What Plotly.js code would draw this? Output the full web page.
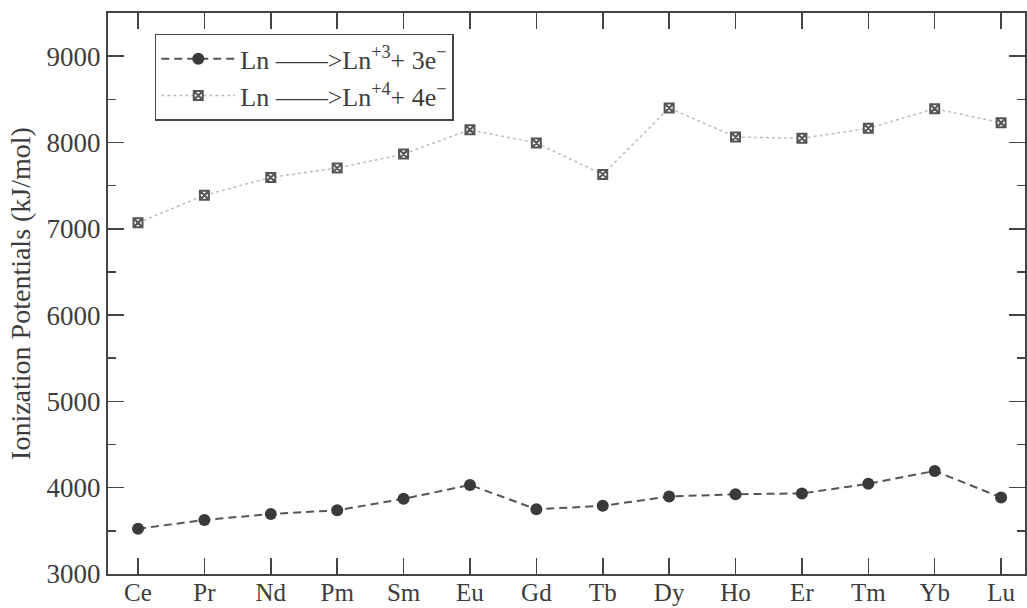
<!DOCTYPE html>
<html><head><meta charset="utf-8">
<script src="https://cdn.plot.ly/plotly-3.0.1.min.js"></script>
<style>html,body{margin:0;padding:0;background:#fff}</style>
</head><body><div id="chart" style="width:1027px;height:608px"></div>
<script>
const elements = ["Ce","Pr","Nd","Pm","Sm","Eu","Gd","Tb","Dy","Ho","Er","Tm","Yb","Lu"];
const ip3 = [3523,3627,3694,3738,3871,4032,3750,3790,3898,3924,3934,4045,4194,3887];
const ip4 = [7070,7388,7595,7703,7866,8148,7993,7630,8399,8063,8048,8164,8391,8229];
const name3 = "Ln ——&gt;Ln<sup>+3</sup>+ 3e<sup>−</sup>";
const name4 = "Ln ——&gt;Ln<sup>+4</sup>+ 4e<sup>−</sup>";
const idx = elements.map((_, i) => i);

const traces = [
  {x: idx, y: ip3, name: name3, mode: "lines+markers", type: "scatter",
   line: {color: "#555", width: 2, dash: "8px,5px"},
   marker: {symbol: "circle", size: 12, color: "#3a3a3a"}},
  {x: idx, y: ip4, name: name4, mode: "lines+markers", type: "scatter",
   line: {color: "#bdbdbd", width: 1.5, dash: "dot"},
   marker: {symbol: "square-x-open", size: 9, color: "#555", line: {width: 2, color: "#555"}}}
];

const ff = "Liberation Serif";
const font = {family: ff, color: "#3c3c3c"};
const layout = {
  width: 1027, height: 608,
  margin: {l: 108, r: 2, t: 13, b: 34},
  paper_bgcolor: "#ffffff", plot_bgcolor: "#ffffff",
  font: Object.assign({size: 26}, font),
  showlegend: true,
  legend: {x: 0.051, y: 0.963, xanchor: "left", yanchor: "top",
           bgcolor: "#fff", bordercolor: "#444", borderwidth: 1.5,
           font: Object.assign({size: 26}, font), itemwidth: 74, tracegroupgap: 0},
  xaxis: {
    range: [-0.452, 13.36], tickmode: "array", tickvals: idx, ticktext: elements,
    ticks: "inside", ticklen: 16, tickwidth: 1.5, tickcolor: "#444",
    showline: true, linecolor: "#444", linewidth: 2, mirror: "ticks",
    showgrid: false, zeroline: false, ticklabelstandoff: -5,
    tickfont: Object.assign({size: 25}, font)
  },
  yaxis: {
    range: [3000, 9500], tickvals: [3000,4000,5000,6000,7000,8000,9000],
    ticks: "inside", ticklen: 16, tickwidth: 1.5, tickcolor: "#444",
    minor: {dtick: 500, ticks: "inside", ticklen: 8, tickwidth: 1.5, tickcolor: "#444"},
    showline: true, linecolor: "#444", linewidth: 2, mirror: "ticks",
    showgrid: false, zeroline: false,
    tickfont: Object.assign({size: 27}, font),
    title: {text: "Ionization Potentials (kJ/mol)", font: Object.assign({size: 28}, font), standoff: 8}
  }
};
Plotly.newPlot("chart", traces, layout, {displayModeBar: false, staticPlot: true});
</script></body></html>
